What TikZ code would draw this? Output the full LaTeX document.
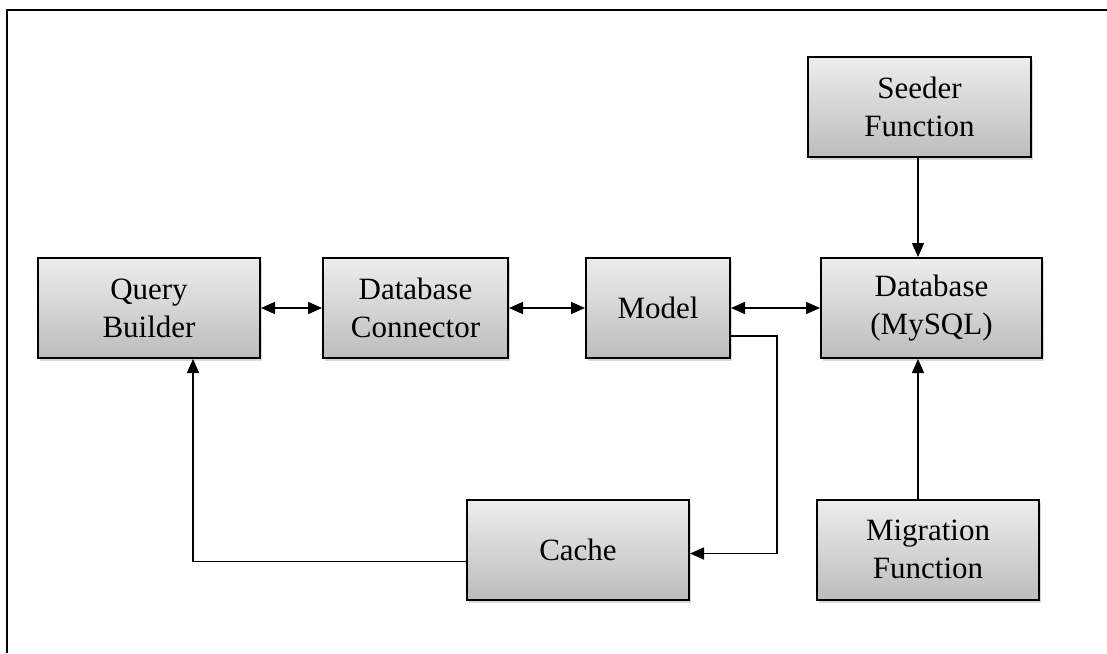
\documentclass[tikz,border=0pt]{standalone}
\usepackage{fontspec}
\setmainfont{Liberation Serif}
\usetikzlibrary{arrows.meta,shadows}

\begin{document}
\begin{tikzpicture}[x=0.5pt, y=-0.5pt,
    every node/.style={font=\fontsize{15.5}{19}\selectfont},
    block/.style={draw, line width=1pt, align=center, minimum height=50pt,
      top color=black!7, bottom color=black!26,
      drop shadow={shadow xshift=1.2pt, shadow yshift=-1.5pt, opacity=0.3}},
    link/.style={line width=0.8pt, -{Triangle[length=7pt,width=6pt]}},
    both/.style={line width=0.8pt, {Triangle[length=7pt,width=6pt]}-{Triangle[length=7pt,width=6pt]}}]
    \useasboundingbox (0,0) rectangle (1107,653);

    % frame
    \draw[line width=0.8pt] (7,653) -- (7,10) -- (1107,10);

    % blocks
    \node[block, minimum width=111pt] (qb) at (149,308) {Query\\Builder};
    \node[block, minimum width=92.5pt] (dc) at (415.5,308) {Database\\Connector};
    \node[block, minimum width=72pt] (model) at (658,308) {Model};
    \node[block, minimum width=110.5pt] (db) at (931.5,308) {Database\\(MySQL)};
    \node[block, minimum width=111.5pt] (seeder) at (919.5,107) {Seeder\\Function};
    \node[block, minimum width=111pt] (mig) at (928,549.5) {Migration\\Function};
    \node[block, minimum width=111pt] (cache) at (578,549.5) {Cache};

    % connections
    \draw[both] (qb) -- (dc);
    \draw[both] (dc) -- (model);
    \draw[both] (model) -- (db);
    \draw[link] (seeder.south -| 918,0) -- (db.north -| 918,0);
    \draw[link] (mig.north -| 918,0) -- (db.south -| 918,0);

    \coordinate (turn) at (777,336);
    \draw[link] ([yshift=-14pt]model.east) -- (turn) |- ([yshift=-2pt]cache.east);
    \draw[link] ([yshift=-6pt]cache.west) -| ([xshift=22pt]qb.south);
\end{tikzpicture}
\end{document}
